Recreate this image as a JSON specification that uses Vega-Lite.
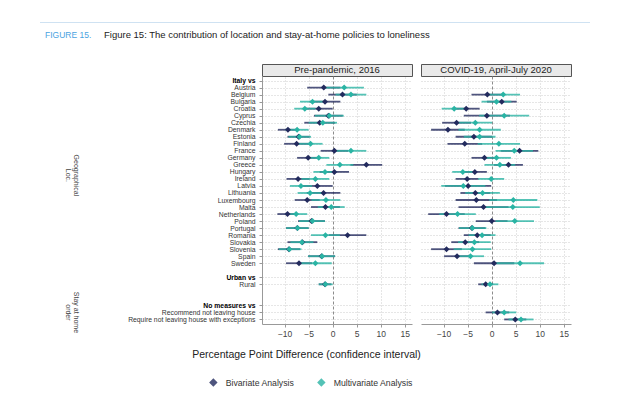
{
 "$schema": "https://vega.github.io/schema/vega-lite/v6.json",
 "padding": {"left": 40, "top": 22, "right": 10, "bottom": 5},
 "background": "white",
 "config": {"font": "Liberation Sans", "view": {"stroke": null}},
 "datasets": {
  "d": [
   {"p":"2016","row":"Austria","a":"Bivariate Analysis","est":-1.85,"lo":-5.3,"hi":1.6},
   {"p":"2016","row":"Belgium","a":"Bivariate Analysis","est":2.05,"lo":-0.9,"hi":5.0},
   {"p":"2016","row":"Bulgaria","a":"Bivariate Analysis","est":-1.6,"lo":-4.8,"hi":1.6},
   {"p":"2016","row":"Croatia","a":"Bivariate Analysis","est":-2.9,"lo":-5.8,"hi":0},
   {"p":"2016","row":"Cyprus","a":"Bivariate Analysis","est":-0.9,"lo":-3.9,"hi":2.1},
   {"p":"2016","row":"Czechia","a":"Bivariate Analysis","est":-2.7,"lo":-5.9,"hi":0.5},
   {"p":"2016","row":"Denmark","a":"Bivariate Analysis","est":-9.3,"lo":-11.4,"hi":-7.2},
   {"p":"2016","row":"Estonia","a":"Bivariate Analysis","est":-7.1,"lo":-9.4,"hi":-4.8},
   {"p":"2016","row":"Finland","a":"Bivariate Analysis","est":-7.5,"lo":-10.1,"hi":-4.9},
   {"p":"2016","row":"France","a":"Bivariate Analysis","est":0.35,"lo":-2.5,"hi":3.2},
   {"p":"2016","row":"Germany","a":"Bivariate Analysis","est":-5.1,"lo":-7.4,"hi":-2.8},
   {"p":"2016","row":"Greece","a":"Bivariate Analysis","est":7.0,"lo":3.7,"hi":10.3},
   {"p":"2016","row":"Hungary","a":"Bivariate Analysis","est":0.35,"lo":-2.7,"hi":3.4},
   {"p":"2016","row":"Ireland","a":"Bivariate Analysis","est":-7.2,"lo":-9.6,"hi":-4.8},
   {"p":"2016","row":"Latvia","a":"Bivariate Analysis","est":-3.2,"lo":-6.4,"hi":0},
   {"p":"2016","row":"Lithuania","a":"Bivariate Analysis","est":-1.9,"lo":-5.4,"hi":1.6},
   {"p":"2016","row":"Luxembourg","a":"Bivariate Analysis","est":-5.3,"lo":-7.9,"hi":-2.7},
   {"p":"2016","row":"Malta","a":"Bivariate Analysis","est":-1.5,"lo":-4.5,"hi":1.5},
   {"p":"2016","row":"Netherlands","a":"Bivariate Analysis","est":-9.4,"lo":-11.5,"hi":-7.3},
   {"p":"2016","row":"Poland","a":"Bivariate Analysis","est":-4.4,"lo":-7.2,"hi":-1.6},
   {"p":"2016","row":"Portugal","a":"Bivariate Analysis","est":-7.35,"lo":-9.7,"hi":-5.0},
   {"p":"2016","row":"Romania","a":"Bivariate Analysis","est":3.1,"lo":-0.8,"hi":7.0},
   {"p":"2016","row":"Slovakia","a":"Bivariate Analysis","est":-6.3,"lo":-9.4,"hi":-3.2},
   {"p":"2016","row":"Slovenia","a":"Bivariate Analysis","est":-9.1,"lo":-11.4,"hi":-6.8},
   {"p":"2016","row":"Spain","a":"Bivariate Analysis","est":-2.3,"lo":-5.1,"hi":0.5},
   {"p":"2016","row":"Sweden","a":"Bivariate Analysis","est":-7.0,"lo":-9.7,"hi":-4.3},
   {"p":"2016","row":"Rural","a":"Bivariate Analysis","est":-1.6,"lo":-2.9,"hi":-0.3},
   {"p":"2016","row":"Austria","a":"Multivariate Analysis","est":2.4,"lo":-1.7,"hi":6.5},
   {"p":"2016","row":"Belgium","a":"Multivariate Analysis","est":3.8,"lo":0.6,"hi":7.0},
   {"p":"2016","row":"Bulgaria","a":"Multivariate Analysis","est":-4.2,"lo":-6.8,"hi":-1.6},
   {"p":"2016","row":"Croatia","a":"Multivariate Analysis","est":-5.8,"lo":-8.0,"hi":-3.6},
   {"p":"2016","row":"Cyprus","a":"Multivariate Analysis","est":-0.7,"lo":-3.7,"hi":2.3},
   {"p":"2016","row":"Czechia","a":"Multivariate Analysis","est":-2.05,"lo":-5.0,"hi":0.9},
   {"p":"2016","row":"Denmark","a":"Multivariate Analysis","est":-7.4,"lo":-9.8,"hi":-5.0},
   {"p":"2016","row":"Estonia","a":"Multivariate Analysis","est":-6.9,"lo":-9.2,"hi":-4.5},
   {"p":"2016","row":"Finland","a":"Multivariate Analysis","est":-4.6,"lo":-7.1,"hi":-2.1},
   {"p":"2016","row":"France","a":"Multivariate Analysis","est":3.8,"lo":0.6,"hi":7.0},
   {"p":"2016","row":"Germany","a":"Multivariate Analysis","est":-2.9,"lo":-5.1,"hi":-0.7},
   {"p":"2016","row":"Greece","a":"Multivariate Analysis","est":1.5,"lo":-1.3,"hi":4.3},
   {"p":"2016","row":"Hungary","a":"Multivariate Analysis","est":-1.6,"lo":-4.0,"hi":0.8},
   {"p":"2016","row":"Ireland","a":"Multivariate Analysis","est":-3.6,"lo":-6.5,"hi":-0.7},
   {"p":"2016","row":"Latvia","a":"Multivariate Analysis","est":-6.6,"lo":-8.9,"hi":-4.3},
   {"p":"2016","row":"Lithuania","a":"Multivariate Analysis","est":-4.7,"lo":-7.3,"hi":-2.1},
   {"p":"2016","row":"Luxembourg","a":"Multivariate Analysis","est":-1.4,"lo":-4.4,"hi":1.6},
   {"p":"2016","row":"Malta","a":"Multivariate Analysis","est":-0.3,"lo":-3.1,"hi":2.5},
   {"p":"2016","row":"Netherlands","a":"Multivariate Analysis","est":-7.6,"lo":-9.9,"hi":-5.3},
   {"p":"2016","row":"Poland","a":"Multivariate Analysis","est":-4.2,"lo":-7.0,"hi":-1.6},
   {"p":"2016","row":"Portugal","a":"Multivariate Analysis","est":-7.3,"lo":-9.7,"hi":-5.0},
   {"p":"2016","row":"Romania","a":"Multivariate Analysis","est":-1.5,"lo":-4.5,"hi":1.5},
   {"p":"2016","row":"Slovakia","a":"Multivariate Analysis","est":-6.4,"lo":-8.8,"hi":-4.0},
   {"p":"2016","row":"Slovenia","a":"Multivariate Analysis","est":-9.0,"lo":-11.2,"hi":-6.5},
   {"p":"2016","row":"Spain","a":"Multivariate Analysis","est":-2.2,"lo":-5.1,"hi":0.5},
   {"p":"2016","row":"Sweden","a":"Multivariate Analysis","est":-3.6,"lo":-7.0,"hi":-0.2},
   {"p":"2016","row":"Rural","a":"Multivariate Analysis","est":-1.5,"lo":-2.9,"hi":0.0},
   {"p":"2020","row":"Belgium","a":"Bivariate Analysis","est":-0.9,"lo":-4.2,"hi":2.4},
   {"p":"2020","row":"Bulgaria","a":"Bivariate Analysis","est":2.1,"lo":-1.0,"hi":5.2},
   {"p":"2020","row":"Croatia","a":"Bivariate Analysis","est":-5.3,"lo":-8.1,"hi":-2.5},
   {"p":"2020","row":"Cyprus","a":"Bivariate Analysis","est":-1.0,"lo":-5.8,"hi":3.8},
   {"p":"2020","row":"Czechia","a":"Bivariate Analysis","est":-7.3,"lo":-10.3,"hi":-4.3},
   {"p":"2020","row":"Denmark","a":"Bivariate Analysis","est":-9.1,"lo":-12.6,"hi":-5.6},
   {"p":"2020","row":"Estonia","a":"Bivariate Analysis","est":-3.7,"lo":-7.5,"hi":0.1},
   {"p":"2020","row":"Finland","a":"Bivariate Analysis","est":-5.6,"lo":-9.2,"hi":-2.0},
   {"p":"2020","row":"France","a":"Bivariate Analysis","est":5.8,"lo":1.9,"hi":9.7},
   {"p":"2020","row":"Germany","a":"Bivariate Analysis","est":-1.5,"lo":-4.2,"hi":1.2},
   {"p":"2020","row":"Greece","a":"Bivariate Analysis","est":3.5,"lo":0.5,"hi":6.5},
   {"p":"2020","row":"Hungary","a":"Bivariate Analysis","est":-3.5,"lo":-6.0,"hi":-1.0},
   {"p":"2020","row":"Ireland","a":"Bivariate Analysis","est":-5.1,"lo":-7.5,"hi":-2.7},
   {"p":"2020","row":"Latvia","a":"Bivariate Analysis","est":-4.9,"lo":-9.7,"hi":-0.1},
   {"p":"2020","row":"Lithuania","a":"Bivariate Analysis","est":-3.4,"lo":-6.5,"hi":-0.3},
   {"p":"2020","row":"Luxembourg","a":"Bivariate Analysis","est":-3.2,"lo":-7.5,"hi":1.1},
   {"p":"2020","row":"Malta","a":"Bivariate Analysis","est":-1.7,"lo":-6.9,"hi":3.5},
   {"p":"2020","row":"Netherlands","a":"Bivariate Analysis","est":-9.4,"lo":-13.2,"hi":-5.6},
   {"p":"2020","row":"Poland","a":"Bivariate Analysis","est":0.0,"lo":-3.3,"hi":3.3},
   {"p":"2020","row":"Portugal","a":"Bivariate Analysis","est":-4.1,"lo":-6.9,"hi":-1.3},
   {"p":"2020","row":"Romania","a":"Bivariate Analysis","est":-3.0,"lo":-5.8,"hi":-0.2},
   {"p":"2020","row":"Slovakia","a":"Bivariate Analysis","est":-5.5,"lo":-8.4,"hi":-2.6},
   {"p":"2020","row":"Slovenia","a":"Bivariate Analysis","est":-9.4,"lo":-12.6,"hi":-6.2},
   {"p":"2020","row":"Spain","a":"Bivariate Analysis","est":-7.2,"lo":-9.9,"hi":-4.5},
   {"p":"2020","row":"Sweden","a":"Bivariate Analysis","est":0.5,"lo":-3.7,"hi":4.7},
   {"p":"2020","row":"Rural","a":"Bivariate Analysis","est":-1.25,"lo":-2.8,"hi":0.3},
   {"p":"2020","row":"Recommend not leaving house","a":"Bivariate Analysis","est":1.2,"lo":-1.25,"hi":3.65},
   {"p":"2020","row":"Require not leaving house with exceptions","a":"Bivariate Analysis","est":4.9,"lo":2.6,"hi":7.2},
   {"p":"2020","row":"Belgium","a":"Multivariate Analysis","est":2.4,"lo":-1.1,"hi":5.9},
   {"p":"2020","row":"Bulgaria","a":"Multivariate Analysis","est":1.0,"lo":-2.1,"hi":4.1},
   {"p":"2020","row":"Croatia","a":"Multivariate Analysis","est":-7.8,"lo":-10.4,"hi":-5.2},
   {"p":"2020","row":"Cyprus","a":"Multivariate Analysis","est":2.6,"lo":-2.6,"hi":7.8},
   {"p":"2020","row":"Czechia","a":"Multivariate Analysis","est":-3.4,"lo":-6.9,"hi":0.1},
   {"p":"2020","row":"Denmark","a":"Multivariate Analysis","est":-2.5,"lo":-6.9,"hi":1.9},
   {"p":"2020","row":"Estonia","a":"Multivariate Analysis","est":-2.5,"lo":-5.8,"hi":0.8},
   {"p":"2020","row":"Finland","a":"Multivariate Analysis","est":1.5,"lo":-2.9,"hi":5.9},
   {"p":"2020","row":"France","a":"Multivariate Analysis","est":4.7,"lo":0.8,"hi":8.6},
   {"p":"2020","row":"Germany","a":"Multivariate Analysis","est":1.0,"lo":-2.0,"hi":4.0},
   {"p":"2020","row":"Greece","a":"Multivariate Analysis","est":1.7,"lo":-1.5,"hi":4.9},
   {"p":"2020","row":"Hungary","a":"Multivariate Analysis","est":-6.0,"lo":-8.2,"hi":-3.8},
   {"p":"2020","row":"Ireland","a":"Multivariate Analysis","est":-0.1,"lo":-2.8,"hi":2.6},
   {"p":"2020","row":"Latvia","a":"Multivariate Analysis","est":-5.9,"lo":-10.5,"hi":-1.3},
   {"p":"2020","row":"Lithuania","a":"Multivariate Analysis","est":-1.9,"lo":-5.5,"hi":1.7},
   {"p":"2020","row":"Luxembourg","a":"Multivariate Analysis","est":4.5,"lo":-0.5,"hi":9.5},
   {"p":"2020","row":"Malta","a":"Multivariate Analysis","est":4.4,"lo":-1.2,"hi":10.0},
   {"p":"2020","row":"Netherlands","a":"Multivariate Analysis","est":-7.1,"lo":-10.9,"hi":-3.3},
   {"p":"2020","row":"Poland","a":"Multivariate Analysis","est":4.8,"lo":0.8,"hi":8.8},
   {"p":"2020","row":"Portugal","a":"Multivariate Analysis","est":-4.0,"lo":-6.8,"hi":-1.1},
   {"p":"2020","row":"Romania","a":"Multivariate Analysis","est":-2.0,"lo":-4.8,"hi":0.8},
   {"p":"2020","row":"Slovakia","a":"Multivariate Analysis","est":-3.6,"lo":-7.0,"hi":-0.2},
   {"p":"2020","row":"Slovenia","a":"Multivariate Analysis","est":-4.0,"lo":-7.9,"hi":-0.1},
   {"p":"2020","row":"Spain","a":"Multivariate Analysis","est":-4.4,"lo":-7.2,"hi":-1.6},
   {"p":"2020","row":"Sweden","a":"Multivariate Analysis","est":5.9,"lo":0.9,"hi":10.9},
   {"p":"2020","row":"Rural","a":"Multivariate Analysis","est":-0.35,"lo":-2.1,"hi":1.4},
   {"p":"2020","row":"Recommend not leaving house","a":"Multivariate Analysis","est":2.6,"lo":0.1,"hi":5.1},
   {"p":"2020","row":"Require not leaving house with exceptions","a":"Multivariate Analysis","est":6.1,"lo":3.5,"hi":8.7}
  ]
 },
 "spacing": 6,
 "vconcat": [
  {"width": 550, "height": 1, "data": {"values": []}, "mark": "point", "view": {"fill": "#cfe2f2", "stroke": null}},
  {
   "spacing": 12,
   "hconcat": [
    {"width": 1, "height": 18, "data": {"values": []}, "mark": "point", "title": {"text": "FIGURE 15.", "anchor": "start", "fontSize": 8.5, "fontWeight": "normal", "color": "#4aa3df", "dx": 5, "dy": 0.8, "offset": 0}},
    {"width": 1, "height": 18, "data": {"values": []}, "mark": "point", "title": {"text": "Figure 15: The contribution of location and stay-at-home policies to loneliness", "anchor": "start", "fontSize": 9.5, "fontWeight": "normal", "color": "#222222", "offset": 0}}
   ]
  },
  {
   "columns": 3,
   "bounds": "flush",
   "spacing": {"row": 0, "column": 9},
   "concat": [
    {"width": 213, "height": 12, "data": {"values": []}, "mark": "point"},
    {"width": 150, "height": 12, "data": {"values": [{"t": "Pre-pandemic, 2016"}]}, "mark": {"type": "text", "fontSize": 9.5, "color": "#222222"}, "encoding": {"text": {"field": "t"}}, "view": {"fill": "#e9e9e9", "stroke": "#555555", "strokeWidth": 1}},
    {"width": 150, "height": 12, "data": {"values": [{"t": "COVID-19, April-July 2020"}]}, "mark": {"type": "text", "fontSize": 9.5, "color": "#222222"}, "encoding": {"text": {"field": "t"}}, "view": {"fill": "#e9e9e9", "stroke": "#555555", "strokeWidth": 1}},
    {
     "width": 213, "height": 248,
     "data": {"values": [{"g": "Geographical\nLoc.", "row": "Hungary", "k": 1}, {"g": "Stay at home\norder", "row": "Recommend not leaving house", "k": 2}]},
     "encoding": {
      "y": {"field": "row", "type": "nominal", "scale": {"type": "point", "padding": 0.65, "domain": ["Italy vs","Austria","Belgium","Bulgaria","Croatia","Cyprus","Czechia","Denmark","Estonia","Finland","France","Germany","Greece","Hungary","Ireland","Latvia","Lithuania","Luxembourg","Malta","Netherlands","Poland","Portugal","Romania","Slovakia","Slovenia","Spain","Sweden","gap1","Urban vs","Rural","gap2","gap3","No measures vs","Recommend not leaving house","Require not leaving house with exceptions"]}, "axis": null},
      "text": {"field": "g"}
     },
     "layer": [
      {"transform": [{"filter": "datum.k == 1"}], "mark": {"type": "text", "angle": 90, "fontSize": 7, "lineHeight": 7.5, "lineBreak": "\n", "color": "#444444", "baseline": "middle", "dx": 3.5, "dy": 71}},
      {"transform": [{"filter": "datum.k == 2"}], "mark": {"type": "text", "angle": 90, "fontSize": 7, "lineHeight": 7.5, "lineBreak": "\n", "color": "#444444", "baseline": "middle", "dy": 71}}
     ]
    },
    {
     "width": 150, "height": 248,
     "data": {"name": "d"},
     "transform": [{"filter": "datum.p == '2016'"}],
     "encoding": {
      "y": {"field": "row", "type": "nominal", "scale": {"type": "point", "padding": 0.65, "domain": ["Italy vs","Austria","Belgium","Bulgaria","Croatia","Cyprus","Czechia","Denmark","Estonia","Finland","France","Germany","Greece","Hungary","Ireland","Latvia","Lithuania","Luxembourg","Malta","Netherlands","Poland","Portugal","Romania","Slovakia","Slovenia","Spain","Sweden","gap1","Urban vs","Rural","gap2","gap3","No measures vs","Recommend not leaving house","Require not leaving house with exceptions"]},
       "axis": {"title": null, "labelExpr": "indexof(datum.value, 'gap') == 0 ? '' : datum.value", "labelFontSize": 6.8, "labelColor": {"condition": {"test": "datum.value == 'Italy vs' || datum.value == 'Urban vs' || datum.value == 'No measures vs'", "value": "#000000"}, "value": "#333333"}, "labelFontWeight": {"condition": {"test": "datum.value == 'Italy vs' || datum.value == 'Urban vs' || datum.value == 'No measures vs'", "value": "bold"}, "value": "normal"}, "tickSize": 3, "tickColor": "#999999", "tickOpacity": {"condition": {"test": "indexof(datum.value, 'gap') == 0", "value": 0}, "value": 1}, "domainColor": "#999999", "labelPadding": 4, "grid": true, "gridDash": [1, 2], "gridColor": "#cccccc", "gridOpacity": {"condition": {"test": "indexof(datum.value, 'gap') == 0", "value": 0}, "value": 1}}}
     },
     "layer": [
      {"mark": {"type": "rule", "strokeWidth": 1.8, "opacity": 0.8},
       "encoding": {
        "x": {"field": "lo", "type": "quantitative", "scale": {"domain": [-14.7, 16.5], "nice": false, "zero": false}, "axis": {"values": [-10, -5, 0, 5, 10, 15], "labelFontSize": 8.5, "labelColor": "#444444", "tickSize": 3, "tickColor": "#999999", "domainColor": "#999999", "grid": true, "gridDash": {"condition": {"test": "datum.value === 0", "value": [3, 2]}, "value": [1, 2]}, "gridColor": {"condition": {"test": "datum.value === 0", "value": "#8c8c8c"}, "value": "#cccccc"}, "labelPadding": 2, "title": "Percentage Point Difference (confidence interval)", "titleFontSize": 10.5, "titleFontWeight": "normal", "titleColor": "#222222", "titleX": 44, "titleY": 30, "titleAlign": "center", "titleBaseline": "middle"}},
        "x2": {"field": "hi"},
        "color": {"field": "a", "type": "nominal", "scale": {"domain": ["Bivariate Analysis", "Multivariate Analysis"], "range": ["#232b5e", "#2ab4a4"]}, "legend": {"title": null, "orient": "none", "legendX": 169, "legendY": 356, "direction": "horizontal", "labelFontSize": 8.7, "labelColor": "#333333", "symbolSize": 40, "symbolType": "diamond", "columnPadding": 20, "labelOffset": 8}}
       }},
      {"mark": {"type": "point", "shape": "diamond", "filled": true, "size": 36, "opacity": 1},
       "encoding": {
        "x": {"field": "est", "type": "quantitative", "scale": {"domain": [-14.7, 16.5], "nice": false, "zero": false}, "axis": {"values": [-10, -5, 0, 5, 10, 15], "labelFontSize": 8.5, "labelColor": "#444444", "tickSize": 3, "tickColor": "#999999", "domainColor": "#999999", "grid": true, "gridDash": {"condition": {"test": "datum.value === 0", "value": [3, 2]}, "value": [1, 2]}, "gridColor": {"condition": {"test": "datum.value === 0", "value": "#8c8c8c"}, "value": "#cccccc"}, "labelPadding": 2, "title": "Percentage Point Difference (confidence interval)", "titleFontSize": 10.5, "titleFontWeight": "normal", "titleColor": "#222222", "titleX": 44, "titleY": 30, "titleAlign": "center", "titleBaseline": "middle"}},
        "color": {"field": "a", "type": "nominal", "scale": {"domain": ["Bivariate Analysis", "Multivariate Analysis"], "range": ["#232b5e", "#2ab4a4"]}, "legend": {"title": null, "orient": "none", "legendX": 169, "legendY": 356, "direction": "horizontal", "labelFontSize": 8.7, "labelColor": "#333333", "symbolSize": 40, "symbolType": "diamond", "columnPadding": 20, "labelOffset": 8}}
       }}
     ]
    },
    {
     "width": 150, "height": 248,
     "data": {"name": "d"},
     "transform": [{"filter": "datum.p == '2020'"}],
     "encoding": {
      "y": {"field": "row", "type": "nominal", "scale": {"type": "point", "padding": 0.65, "domain": ["Italy vs","Austria","Belgium","Bulgaria","Croatia","Cyprus","Czechia","Denmark","Estonia","Finland","France","Germany","Greece","Hungary","Ireland","Latvia","Lithuania","Luxembourg","Malta","Netherlands","Poland","Portugal","Romania","Slovakia","Slovenia","Spain","Sweden","gap1","Urban vs","Rural","gap2","gap3","No measures vs","Recommend not leaving house","Require not leaving house with exceptions"]},
       "axis": {"title": null, "labels": false, "ticks": false, "domain": false, "grid": true, "gridDash": [1, 2], "gridColor": "#cccccc", "gridOpacity": {"condition": {"test": "indexof(datum.value, 'gap') == 0", "value": 0}, "value": 1}}}
     },
     "layer": [
      {"mark": {"type": "rule", "strokeWidth": 1.8, "opacity": 0.8},
       "encoding": {
        "x": {"field": "lo", "type": "quantitative", "scale": {"domain": [-14.7, 16.5], "nice": false, "zero": false}, "axis": {"values": [-10, -5, 0, 5, 10, 15], "labelFontSize": 8.5, "labelColor": "#444444", "tickSize": 3, "tickColor": "#999999", "domainColor": "#999999", "grid": true, "gridDash": {"condition": {"test": "datum.value === 0", "value": [3, 2]}, "value": [1, 2]}, "gridColor": {"condition": {"test": "datum.value === 0", "value": "#8c8c8c"}, "value": "#cccccc"}, "labelPadding": 2, "title": null}},
        "x2": {"field": "hi"},
        "color": {"field": "a", "type": "nominal", "scale": {"domain": ["Bivariate Analysis", "Multivariate Analysis"], "range": ["#232b5e", "#2ab4a4"]}, "legend": {"title": null, "orient": "none", "legendX": 169, "legendY": 356, "direction": "horizontal", "labelFontSize": 8.7, "labelColor": "#333333", "symbolSize": 40, "symbolType": "diamond", "columnPadding": 20, "labelOffset": 8}}
       }},
      {"mark": {"type": "point", "shape": "diamond", "filled": true, "size": 36, "opacity": 1},
       "encoding": {
        "x": {"field": "est", "type": "quantitative", "scale": {"domain": [-14.7, 16.5], "nice": false, "zero": false}, "axis": {"values": [-10, -5, 0, 5, 10, 15], "labelFontSize": 8.5, "labelColor": "#444444", "tickSize": 3, "tickColor": "#999999", "domainColor": "#999999", "grid": true, "gridDash": {"condition": {"test": "datum.value === 0", "value": [3, 2]}, "value": [1, 2]}, "gridColor": {"condition": {"test": "datum.value === 0", "value": "#8c8c8c"}, "value": "#cccccc"}, "labelPadding": 2, "title": null}},
        "color": {"field": "a", "type": "nominal", "scale": {"domain": ["Bivariate Analysis", "Multivariate Analysis"], "range": ["#232b5e", "#2ab4a4"]}, "legend": {"title": null, "orient": "none", "legendX": 169, "legendY": 356, "direction": "horizontal", "labelFontSize": 8.7, "labelColor": "#333333", "symbolSize": 40, "symbolType": "diamond", "columnPadding": 20, "labelOffset": 8}}
       }}
     ]
    }
   ]
  }
 ]
}
